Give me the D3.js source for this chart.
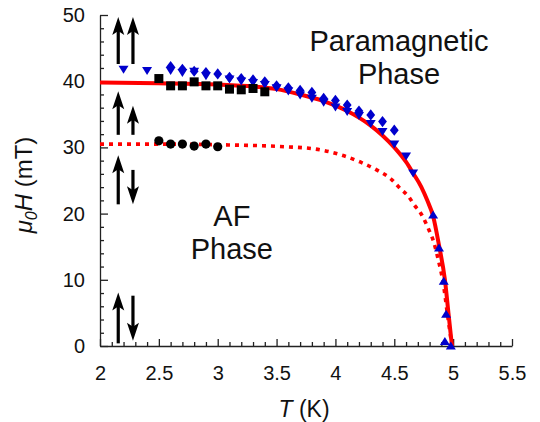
<!DOCTYPE html>
<html><head><meta charset="utf-8">
<script src="https://cdn.jsdelivr.net/npm/d3@7"></script>
<style>
body{margin:0;background:#fff;}
svg{display:block;font-family:"Liberation Sans",Arial,Helvetica,sans-serif;}
</style></head>
<body><svg id="c" width="540" height="422"></svg>
<script>
// ---- data ----
const xTicks = [2, 2.5, 3, 3.5, 4, 4.5, 5, 5.5];
const xTickLabels = ["2", "2.5", "3", "3.5", "4", "4.5", "5", "5.5"];
const yTicks = [0, 10, 20, 30, 40, 50];
const yTickLabels = ["0", "10", "20", "30", "40", "50"];

// fitted phase boundaries (solid, dotted)
const solidT = [2.0,2.5,3.0,3.3,3.5,3.7,3.9,4.0,4.1,4.2,4.3,4.4,4.5,4.6,4.66,4.73,4.78,4.83,4.88,4.93,4.96,4.99];
const solidH = [39.8,39.7,39.5,39.2,38.8,38.0,37.0,36.3,35.5,34.5,33.3,31.8,30.0,27.8,26.1,24.0,22.0,19.6,15.2,10.0,5.0,0];
const dotT = [2.0,2.5,3.0,3.57,3.81,4.04,4.21,4.35,4.48,4.55,4.62,4.67,4.73,4.77,4.80,4.83,4.87,4.92,4.95,4.99];
const dotH = [30.5,30.5,30.4,30.1,29.8,28.9,27.8,26.6,25.1,23.8,22.6,21.3,19.9,18.5,17.3,16.0,13.3,9.0,5.0,0];

// measured points
const squareT = [2.5,2.6,2.7,2.8,2.9,3.0,3.1,3.2,3.3,3.4];
const squareH = [40.4,39.3,39.3,39.9,39.3,39.3,38.8,38.7,38.9,38.4];
const circleT = [2.5,2.6,2.7,2.8,2.9,3.0];
const circleH = [31.0,30.5,30.5,30.2,30.5,30.1];
const diamondT = [2.6,2.7,2.8,2.9,3.0,3.1,3.2,3.3,3.4,3.5,3.6,3.7,3.8,3.9,4.0,4.1,4.2,4.3,4.4,4.5];
const diamondH = [42.2,41.8,41.5,41.3,41.1,40.6,40.4,40.2,39.9,39.3,39.0,38.6,38.3,37.4,37.1,36.4,35.5,34.9,33.9,32.6];
const triDownT = [2.2,2.4,2.6,2.7,2.8,2.9,3.1,3.2,3.3,3.4,3.5,3.6,3.7,3.8,3.9,4.0,4.1,4.2,4.3,4.4,4.5,4.6,4.66];
const triDownH = [41.8,41.6,41.6,41.3,41.5,40.8,40.3,40.0,39.8,39.5,39.0,38.5,37.9,37.4,36.8,36.1,35.4,34.8,33.6,32.4,30.5,28.7,26.1];
const triUpT = [4.83,4.88,4.92,4.94,4.93,4.98];
const triUpH = [19.8,14.8,9.8,4.8,0.7,0];

// spin arrows: T position, tail H, tip H
const arrowT = [2.155,2.28, 2.155,2.28, 2.155,2.28, 2.155,2.28];
const arrowTail = [42.6,42.6, 31.9,31.9, 21.4,26.6, 0.4,7.6];
const arrowTip  = [49.7,49.7, 38.5,36.3, 28.8,21.4, 8.1,0.8];

const phaseLabels = [
  {lines:["Paramagnetic","Phase"], T:4.54, H:44.6},
  {lines:["AF","Phase"], T:3.12, H:18.2}
];

// ---- chart ----
const svg = d3.select("#c");
const x = d3.scaleLinear().domain([2, 5.5]).range([100, 512]);
const y = d3.scaleLinear().domain([0, 50]).range([346, 15]);

// minor ticks
const xMinor = d3.range(21, 55).map(v => v / 10).filter(v => !xTicks.some(t => Math.abs(t - v) < 1e-6));
const yMinor = d3.range(2, 50, 2).filter(v => v % 10 !== 0);

const gx = svg.append("g").attr("transform", `translate(0,${y(0)})`);
gx.call(d3.axisBottom(x).tickValues(xMinor).tickSize(-4).tickSizeOuter(0).tickFormat(""));
gx.call(g => g.selectAll(".domain").remove());
const gx2 = svg.append("g").attr("transform", `translate(0,${y(0)})`);
gx2.call(d3.axisBottom(x).tickValues(xTicks).tickSize(-7).tickSizeOuter(0).tickPadding(20)
  .tickFormat((d, i) => xTickLabels[i]));

const gy = svg.append("g").attr("transform", `translate(${x(2)},0)`);
gy.call(d3.axisLeft(y).tickValues(yMinor).tickSize(-4).tickSizeOuter(0).tickFormat(""));
gy.call(g => g.selectAll(".domain").remove());
const gy2 = svg.append("g").attr("transform", `translate(${x(2)},0)`);
gy2.call(d3.axisLeft(y).tickValues(yTicks).tickSize(-8).tickSizeOuter(0).tickPadding(15)
  .tickFormat((d, i) => yTickLabels[i]));

svg.selectAll(".tick line, .domain").attr("stroke", "#222").attr("stroke-width", 1.3);
svg.selectAll(".tick text").attr("font-size", 20).attr("fill", "#111")
  .attr("font-family", "Liberation Sans, Arial, sans-serif");

// axis titles
svg.append("text").attr("x", 304).attr("y", 417).attr("text-anchor", "middle")
  .attr("font-size", 23).attr("fill", "#111")
  .call(t => { t.append("tspan").attr("font-style", "italic").text("T");
               t.append("tspan").text(" (K)"); });
const yl = svg.append("text").attr("transform", `translate(32,185) rotate(-90)`)
  .attr("text-anchor", "middle").attr("font-size", 24).attr("fill", "#111");
yl.append("tspan").attr("font-style", "italic").text("μ");
yl.append("tspan").attr("font-style", "italic").attr("font-size", 16).attr("dy", 5).text("0");
yl.append("tspan").attr("font-style", "italic").attr("dy", -5).text("H");
yl.append("tspan").text(" (mT)");

// lines
const line = d3.line().x(d => x(d[0])).y(d => y(d[1])).curve(d3.curveMonotoneX);
svg.append("path").datum(dotT.map((t, i) => [t, dotH[i]]))
  .attr("d", line).attr("fill", "none").attr("stroke", "#ff0000")
  .attr("stroke-width", 3.6).attr("stroke-dasharray", "4,5");
svg.append("path").datum(solidT.map((t, i) => [t, solidH[i]]))
  .attr("d", line).attr("fill", "none").attr("stroke", "#ff0000").attr("stroke-width", 4);

// markers
const blue = "#0000cc";
function pts(T, H) { return T.map((t, i) => [t, H[i]]); }
svg.append("g").selectAll("path").data(pts(triDownT, triDownH)).join("path")
  .attr("transform", d => `translate(${x(d[0])},${y(d[1])})`)
  .attr("d", "M-5,-3.6 L5,-3.6 L0,4.4 Z").attr("fill", blue);
svg.append("g").selectAll("path").data(pts(diamondT, diamondH)).join("path")
  .attr("transform", d => `translate(${x(d[0])},${y(d[1])})`)
  .attr("d", "M0,-5.6 L4.4,0 L0,5.6 L-4.4,0 Z").attr("fill", blue);
svg.append("g").selectAll("path").data(pts(triUpT, triUpH)).join("path")
  .attr("transform", d => `translate(${x(d[0])},${y(d[1])})`)
  .attr("d", "M-5,3.6 L5,3.6 L0,-4.4 Z").attr("fill", blue);
svg.append("g").selectAll("rect").data(pts(squareT, squareH)).join("rect")
  .attr("x", d => x(d[0]) - 4.5).attr("y", d => y(d[1]) - 4.5)
  .attr("width", 9).attr("height", 9).attr("fill", "#000");
svg.append("g").selectAll("circle").data(pts(circleT, circleH)).join("circle")
  .attr("cx", d => x(d[0])).attr("cy", d => y(d[1])).attr("r", 4.6).attr("fill", "#000");

// spin arrows
const ag = svg.append("g");
arrowT.forEach((t, i) => {
  const x0 = x(t), yTail = y(arrowTail[i]), yTip = y(arrowTip[i]);
  const dir = yTip < yTail ? 1 : -1; // 1 = up
  const hl = 18, hw = 6;
  ag.append("line").attr("x1", x0).attr("x2", x0).attr("y1", yTail).attr("y2", yTip + dir * 10)
    .attr("stroke", "#000").attr("stroke-width", 3.2);
  ag.append("path").attr("fill", "#000")
    .attr("d", `M${x0},${yTip} L${x0 - hw},${yTip + dir * hl} L${x0},${yTip + dir * (hl - 4)} L${x0 + hw},${yTip + dir * hl} Z`);
});

// phase labels (one text per line)
phaseLabels.forEach(p => {
  p.lines.forEach((s, i) => svg.append("text").attr("text-anchor", "middle")
    .attr("font-size", 29).attr("fill", "#111")
    .attr("x", x(p.T)).attr("y", y(p.H) + i * 33.5).text(s));
});
</script></body></html>
